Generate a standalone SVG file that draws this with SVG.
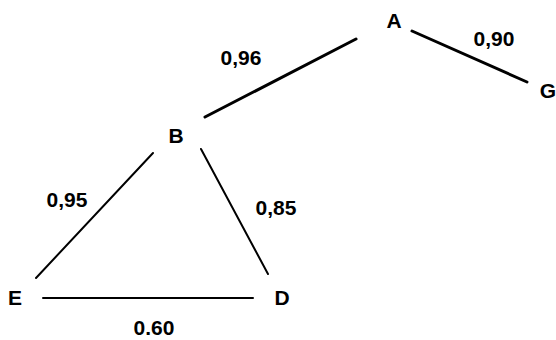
<svg xmlns="http://www.w3.org/2000/svg" width="556" height="340" viewBox="0 0 556 340">
<style>
text{font-family:"Liberation Sans",Arial,sans-serif;font-weight:bold;font-size:21px;fill:#000;text-anchor:middle}
.e{stroke:#000;fill:none;stroke-linecap:round}
</style>
<rect width="556" height="340" fill="#fff"/>
<g id="connectors">
<line class="e" x1="205" y1="117" x2="356" y2="39" stroke-width="3"/>
<line class="e" x1="412" y1="31" x2="527" y2="82" stroke-width="3"/>
<line class="e" x1="153" y1="153" x2="36" y2="278" stroke-width="2"/>
<line class="e" x1="201" y1="149" x2="268" y2="274" stroke-width="2"/>
<line class="e" x1="43" y1="298" x2="253" y2="298" stroke-width="2"/>
<text x="241" y="65">0,96</text>
<text x="494" y="46">0,90</text>
<text x="67" y="207">0,95</text>
<text x="276" y="215">0,85</text>
<text x="154" y="335">0.60</text>
</g>
<g id="A"><text x="394" y="28">A</text></g>
<g id="G"><text x="548" y="98">G</text></g>
<g id="B"><text x="176" y="143">B</text></g>
<g id="E"><text x="15" y="305">E</text></g>
<g id="D"><text x="282" y="305">D</text></g>
</svg>
